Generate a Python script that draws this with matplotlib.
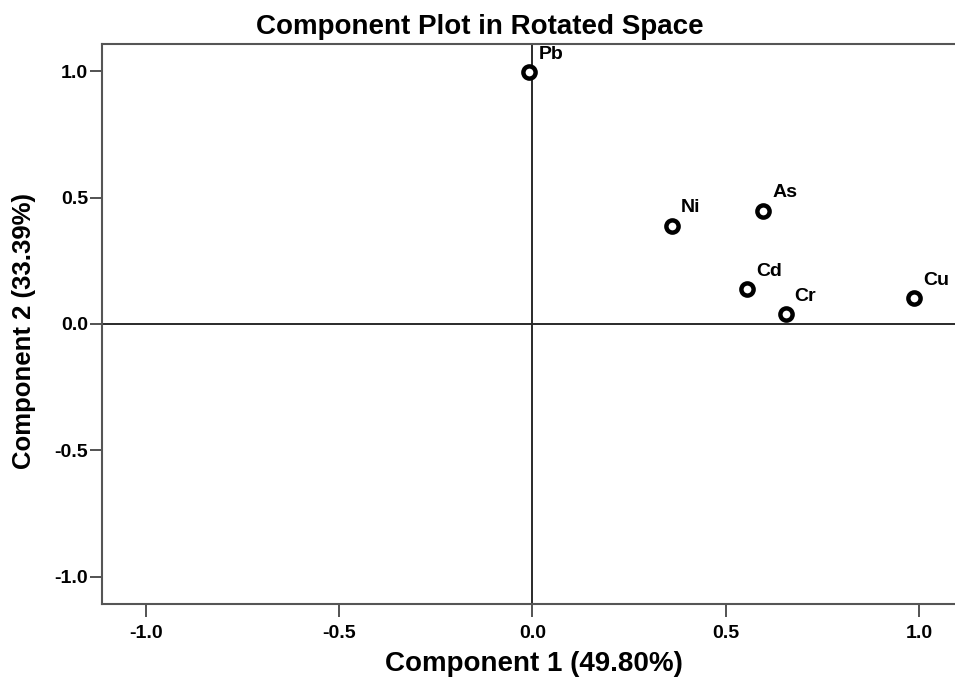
import matplotlib
matplotlib.use("Agg")
import matplotlib.pyplot as plt

base = 'Liberation Sans'

elements = ["Pb", "Ni", "As", "Cd", "Cr", "Cu"]
comp1 = [-0.008, 0.361, 0.597, 0.556, 0.655, 0.987]
comp2 = [0.996, 0.389, 0.448, 0.139, 0.040, 0.103]
ticks = [-1.0, -0.5, 0.0, 0.5, 1.0]
tick_labels = ["-1.0", "-0.5", "0.0", "0.5", "1.0"]

fig = plt.figure(figsize=(9.55, 6.79), dpi=100)
ax = fig.add_axes([102/955, 75/679, 853/955, 560/679])
ax.set_xlim(-1.113, 1.093)
ax.set_ylim(-1.107, 1.107)

ax.axhline(0, color='#2a2a2a', lw=1.4, zorder=1)
ax.axvline(0, color='#2a2a2a', lw=1.4, zorder=1)

ax.plot(comp1, comp2, linestyle='none', marker='o', markersize=8.8,
        markerfacecolor='white', markeredgecolor='black', markeredgewidth=3.2, zorder=3)
for name, x, y in zip(elements, comp1, comp2):
    ax.annotate(name, (x, y), xytext=(6.5, 9.5), textcoords='offset points',
                fontsize=14, fontfamily=base, fontweight='bold', color='black',
                annotation_clip=False)

for s in ['left', 'top', 'bottom']:
    ax.spines[s].set_color('#555555')
    ax.spines[s].set_linewidth(1.5)
ax.spines['right'].set_visible(False)

ax.set_xticks(ticks)
ax.set_xticklabels(tick_labels, fontsize=14, fontweight='bold', fontfamily=base)
ax.set_yticks(ticks)
ax.set_yticklabels(tick_labels, fontsize=14, fontweight='bold', fontfamily=base)
ax.tick_params(axis='both', direction='out', length=9, width=1.3, color='#444444')
ax.tick_params(axis='x', pad=6)
ax.tick_params(axis='y', pad=1)

ax.set_xlabel("Component 1 (49.80%)", fontsize=20, fontweight='bold', fontfamily=base)
ax.xaxis.set_label_coords((534 - 102) / 853, -(664 - 604) / 560)
ax.xaxis.label.set_va('center')
ax.set_ylabel("Component 2 (33.39%)", fontsize=18.5, fontweight='bold', fontfamily=base)
ax.yaxis.set_label_coords(-(102 - 24) / 853, (604 - 331) / 560)
ax.yaxis.label.set_va('center')
ax.set_title("Component Plot in Rotated Space", fontsize=20, fontweight='bold', fontfamily=base,
             x=(480 - 102) / 853, pad=7)

fig.savefig("out.png", dpi=100)
